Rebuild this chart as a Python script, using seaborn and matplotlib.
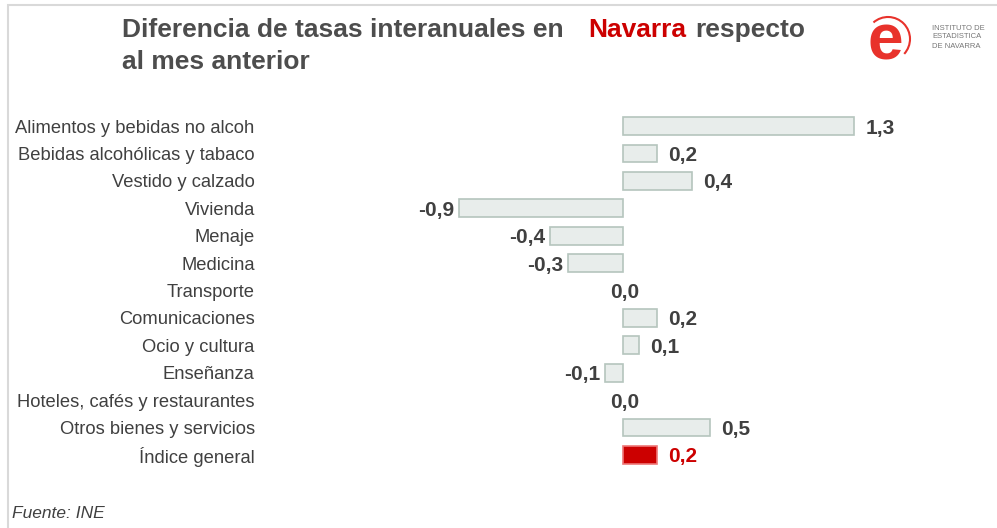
import numpy as np
import pandas as pd
import seaborn as sns
import matplotlib.pyplot as plt
from matplotlib.patches import Rectangle, Arc

# Datos
categorias = ['Alimentos y bebidas no alcoh', 'Bebidas alcohólicas y tabaco',
              'Vestido y calzado', 'Vivienda', 'Menaje', 'Medicina', 'Transporte',
              'Comunicaciones', 'Ocio y cultura', 'Enseñanza',
              'Hoteles, cafés y restaurantes', 'Otros bienes y servicios',
              'Índice general']
valores = [1.30, 0.19, 0.39, -0.92, -0.41, -0.31, 0.0, 0.19, 0.09, -0.10, 0.0, 0.49, 0.19]
etiquetas = ['1,3', '0,2', '0,4', '-0,9', '-0,4', '-0,3', '0,0', '0,2', '0,1', '-0,1',
             '0,0', '0,5', '0,2']

df = pd.DataFrame({'categoria': categorias, 'valor': valores})

sns.set_style('white')
plt.rcParams['font.family'] = ['Liberation Sans', 'DejaVu Sans']

W, H = 997, 528
fig = plt.figure(figsize=(W / 100, H / 100), dpi=100)

# marco gris claro
fig.patches.append(Rectangle((8 / W, -0.1), 1.2, 1.1 - 5 / H, transform=fig.transFigure,
                             fill=False, edgecolor='#d9d9d9', linewidth=1.5))

# ejes: cero en x=623, 178 px por unidad
left_px, right_px = 270, 990
ax = fig.add_axes([left_px / W, 1 - 468.7 / H, (right_px - left_px) / W, (468.7 - 112.3) / H])

colores = ['#e8edeb'] * (len(categorias) - 1) + ['#cc0000']
bordes = ['#b5c5bd'] * (len(categorias) - 1) + ['#ee7777']
sns.barplot(data=df, x='valor', y='categoria', hue='categoria', palette=colores,
            legend=False, orient='h', width=0.65, saturation=1, ax=ax)
for patch, ec, v in zip(ax.patches, bordes, valores):
    if abs(v) < 0.001:
        patch.set_visible(False)
    patch.set_edgecolor(ec)
    patch.set_linewidth(1.2)

ax.set_xlim(-(623 - left_px) / 178, (right_px - 623) / 178)
ax.set_ylim(len(categorias) - 0.5, -0.5)
ax.set_xlabel('')
ax.set_ylabel('')
ax.set_xticks([])
for s in ax.spines.values():
    s.set_visible(False)
ax.tick_params(axis='y', length=0, pad=11, labelsize=13.2, labelcolor='#404040')
ax.patch.set_alpha(0)

# etiquetas de valor
px = (ax.get_xlim()[1] - ax.get_xlim()[0]) / (right_px - left_px)
dy = 2 * len(categorias) / 356.4
for i, (v, t) in enumerate(zip(valores, etiquetas)):
    color = '#cc0000' if i == len(valores) - 1 else '#404040'
    if v > 0.001:
        ax.text(v + 11 * px, i + dy, t, ha='left', va='center', fontsize=15,
                fontweight='bold', color=color)
    elif v < -0.001:
        ax.text(v - 5 * px, i + dy, t, ha='right', va='center', fontsize=15,
                fontweight='bold', color=color)
    else:
        ax.text(v + 2 * px, i + dy, t, ha='center', va='center', fontsize=15,
                fontweight='bold', color=color)

# titulo
fig.text(122 / W, 1 - 30 / H, 'Diferencia de tasas interanuales en', fontsize=19,
         fontweight='bold', color='#4d4d4d', va='center', ha='left')
fig.text(588 / W, 1 - 30 / H, 'Navarra', fontsize=19, fontweight='bold',
         color='#cc0000', va='center', ha='left')
fig.text(695 / W, 1 - 30 / H, 'respecto', fontsize=19, fontweight='bold',
         color='#4d4d4d', va='center', ha='left')
fig.text(122 / W, 1 - 62 / H, 'al mes anterior', fontsize=19, fontweight='bold',
         color='#4d4d4d', va='center', ha='left')

# logo
fig.text(885 / W, 1 - 42 / H, 'e', fontsize=46, fontweight='bold', color='#e8322b',
         va='center', ha='center')
fig.patches.append(Arc((888 / W, 1 - 39 / H), 44 / W, 44 / H, theta1=-60, theta2=115,
                       transform=fig.transFigure, color='#e8322b', linewidth=1.5))
fig.text(932 / W, 1 - 37 / H, 'INSTITUTO DE\nESTADISTICA\nDE NAVARRA', fontsize=5.5,
         color='#777777', va='center', ha='left', linespacing=1.4)

fig.text(12 / W, 1 - 513 / H, 'Fuente: INE', fontsize=12.5, fontstyle='italic',
         color='#404040', va='center', ha='left')

fig.savefig('out.png', dpi=100)
